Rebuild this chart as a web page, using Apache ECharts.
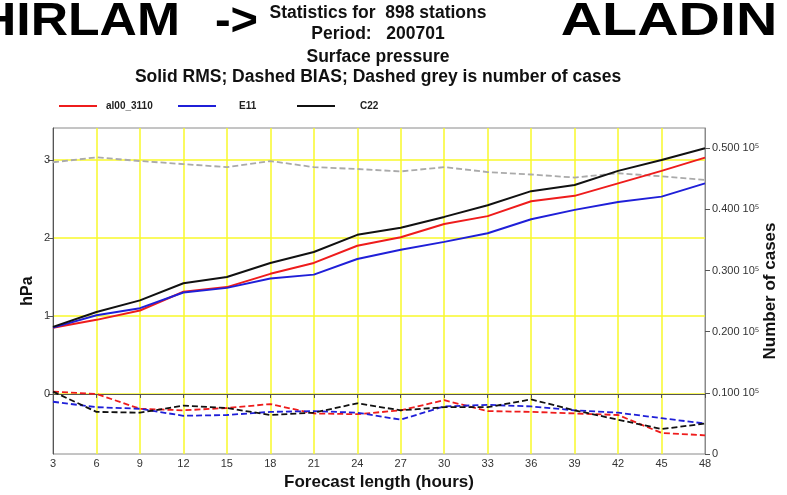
<!DOCTYPE html>
<html>
<head>
<meta charset="utf-8">
<title>Surface pressure statistics</title>
<script src="https://cdn.jsdelivr.net/npm/echarts@6/dist/echarts.min.js"></script>
<style>
  html, body { margin: 0; padding: 0; background: #fff; }
  #chart { width: 787px; height: 495px; }
</style>
</head>
<body>
<div id="chart"></div>
<script>
// forecast length (hours)
const hours = [3, 6, 9, 12, 15, 18, 21, 24, 27, 30, 33, 36, 39, 42, 45, 48]

// RMS (hPa)
const rmsAl00 = [0.85, 0.95, 1.07, 1.31, 1.37, 1.54, 1.68, 1.9, 2.01, 2.18, 2.28, 2.47, 2.54, 2.7, 2.86, 3.03]
const rmsE11 = [0.85, 1.01, 1.1, 1.3, 1.36, 1.48, 1.53, 1.73, 1.85, 1.95, 2.06, 2.24, 2.36, 2.46, 2.53, 2.7]
const rmsC22 = [0.86, 1.05, 1.2, 1.42, 1.5, 1.68, 1.82, 2.04, 2.13, 2.27, 2.42, 2.6, 2.68, 2.86, 3.0, 3.15]

// BIAS (hPa)
const biasAl00 = [0.03, 0.0, -0.19, -0.21, -0.18, -0.13, -0.25, -0.26, -0.21, -0.08, -0.22, -0.23, -0.25, -0.27, -0.5, -0.53]
const biasE11 = [-0.1, -0.17, -0.19, -0.28, -0.27, -0.23, -0.22, -0.24, -0.33, -0.16, -0.14, -0.16, -0.21, -0.24, -0.31, -0.38]
const biasC22 = [0.03, -0.23, -0.24, -0.15, -0.18, -0.27, -0.24, -0.12, -0.21, -0.17, -0.17, -0.07, -0.21, -0.33, -0.45, -0.38]

// number of cases
const cases = [47700, 48500, 47900, 47400, 46900, 47900, 46900, 46600, 46200, 46900, 46100, 45700, 45200, 45900, 45400, 44800]

const hpaTicks = [0, 1, 2, 3]

const FONT = '"Liberation Sans", Arial, sans-serif'
const GRID_YELLOW = '#f8f82a'

function pairs(values) {
  return hours.map((h, i) => [h, values[i]])
}

function lineSeries(name, values, color, dashed, axis) {
  return {
    name: name,
    type: 'line',
    yAxisIndex: axis || 0,
    symbol: 'none',
    data: pairs(values),
    lineStyle: {
      color: color,
      width: dashed ? 1.8 : 2,
      type: dashed ? [6, 3] : 'solid',
    },
    itemStyle: { color: color },
  }
}

function legendItem(name, left, gap) {
  return {
    data: [name],
    left: left,
    top: 96,
    itemWidth: 38,
    itemHeight: 2,
    icon: 'rect',
    textStyle: {
      fontFamily: FONT,
      fontSize: 10,
      fontWeight: 'bold',
      color: '#222',
      padding: [0, 0, 0, gap],
    },
  }
}

function bigText(text, x, align, scale) {
  return {
    type: 'text',
    x: x,
    y: 22,
    scaleX: scale,
    style: { text: text, font: 'bold 47px ' + FONT, fill: '#000', textAlign: align, textVerticalAlign: 'middle' },
  }
}

function titleText(text, y) {
  return {
    type: 'text',
    x: 378,
    y: y,
    style: {
      text: text,
      font: 'bold 17.5px ' + FONT,
      fill: '#111',
      textAlign: 'center',
      textVerticalAlign: 'middle',
    },
  }
}

function initChart() {
  const chart = echarts.init(document.getElementById('chart'), null, { renderer: 'canvas' })
  const option = {
    animation: false,
    backgroundColor: '#fff',
    graphic: [
      bigText('HIRLAM', 180, 'right', 1.1),
      bigText('->', 258, 'right', 1),
      bigText('ALADIN', 669, 'center', 1.22),
      titleText('Statistics for  898 stations', 13),
      titleText('Period:   200701', 34),
      titleText('Surface pressure', 57),
      titleText('Solid RMS; Dashed BIAS; Dashed grey is number of cases', 77),
    ],
    legend: [
      legendItem('al00_3110', 54, 4),
      legendItem('E11', 173, 18),
      legendItem('C22', 292, 20),
    ],
    grid: {
      left: 53,
      right: 82,
      top: 128,
      bottom: 41,
      containLabel: false,
      outerBoundsMode: 'none',
      show: true,
      borderColor: '#8a8a8a',
      borderWidth: 1,
    },
    xAxis: {
      type: 'value',
      min: 3,
      max: 48,
      interval: 3,
      name: 'Forecast length (hours)',
      nameLocation: 'middle',
      nameGap: 20,
      nameMoveOverlap: false,
      nameTextStyle: { fontFamily: FONT, fontSize: 17, fontWeight: 'bold', color: '#111' },
      axisLine: { lineStyle: { color: '#555' } },
      axisTick: { length: 4, lineStyle: { color: '#555' } },
      axisLabel: { fontFamily: FONT, fontSize: 11, color: '#333', margin: 4 },
      splitLine: { showMinLine: false, showMaxLine: false, lineStyle: { color: GRID_YELLOW, width: 1.5 } },
    },
    yAxis: [
      {
        type: 'value',
        min: -0.77,
        max: 3.41,
        name: 'hPa',
        nameLocation: 'middle',
        nameGap: 17,
        nameMoveOverlap: false,
        nameTextStyle: { fontFamily: FONT, fontSize: 16, fontWeight: 'bold', color: '#111' },
        axisLine: { show: true, lineStyle: { color: '#555' } },
        axisTick: { show: true, length: 5, customValues: hpaTicks, lineStyle: { color: '#555' } },
        axisLabel: { fontFamily: FONT, fontSize: 11, color: '#333', margin: 3, customValues: hpaTicks },
        splitLine: { lineStyle: { color: GRID_YELLOW, width: 1.5 } },
      },
      {
        type: 'value',
        position: 'right',
        min: 0,
        max: 53300,
        interval: 10000,
        name: 'Number of cases',
        nameLocation: 'middle',
        nameGap: 57,
        nameMoveOverlap: false,
        nameTextStyle: { fontFamily: FONT, fontSize: 17, fontWeight: 'bold', color: '#111' },
        axisLine: { show: true, lineStyle: { color: '#8a8a8a' } },
        axisTick: { show: true, length: 5, lineStyle: { color: '#555' } },
        axisLabel: {
          fontFamily: FONT,
          fontSize: 11,
          color: '#333',
          margin: 7,
          showMaxLabel: false,
          formatter: function (v) {
            return v === 0 ? '0' : (v / 100000).toFixed(3) + ' 10\u2075'
          },
        },
        splitLine: { show: false },
      },
    ],
    series: [
      lineSeries('Cases', cases, '#aaaaaa', true, 1),
      lineSeries('al00_3110', rmsAl00, '#ee1c1c', false),
      lineSeries('E11', rmsE11, '#1f1fd8', false),
      lineSeries('C22', rmsC22, '#111111', false),
      lineSeries('al00_3110', biasAl00, '#ee1c1c', true),
      lineSeries('E11', biasE11, '#1f1fd8', true),
      lineSeries('C22', biasC22, '#111111', true),
    ],
  }
  chart.setOption(option)
}

initChart()
</script>
</body>
</html>
